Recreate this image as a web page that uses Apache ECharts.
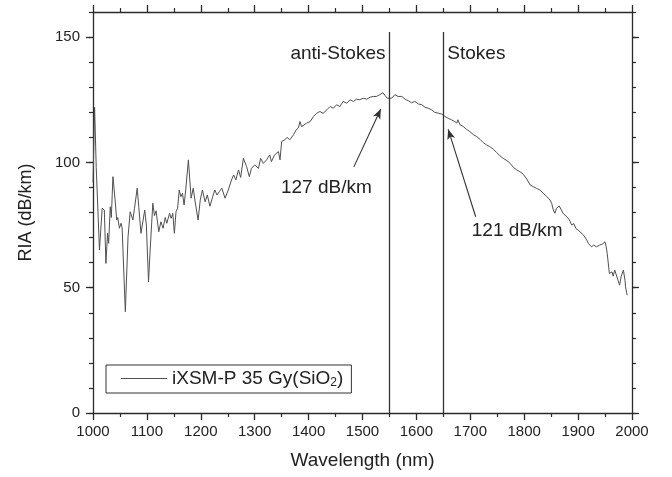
<!DOCTYPE html>
<html>
<head>
<meta charset="utf-8">
<script src="https://cdn.jsdelivr.net/npm/echarts@6/dist/echarts.min.js"></script>
<style>
html,body{margin:0;padding:0;background:#fff;}
#c{width:672px;height:477px;}
</style>
</head>
<body>
<div id="c"></div>
<script>
// ---- data ----
const wavelength = [1000,1003,1006,1012,1017,1021,1024,1027,1029,1032,1034,1037,1041,1044,1046,1049,1052,1054,1060,1065,1069,1074,1077,1082,1085,1089,1092,1096,1099,1103,1106,1111,1114,1117,1122,1126,1130,1134,1137,1142,1145,1148,1151,1154,1157,1160,1163,1166,1169,1172,1177,1182,1186,1189,1195,1199,1203,1208,1212,1217,1222,1226,1230,1235,1239,1245,1251,1257,1261,1265,1270,1274,1279,1282,1285,1290,1294,1300,1307,1311,1316,1322,1328,1331,1337,1344,1347,1350,1356,1360,1365,1372,1377,1381,1384,1387,1390,1396,1403,1409,1415,1421,1427,1434,1440,1446,1452,1458,1464,1471,1477,1483,1489,1495,1501,1508,1514,1520,1526,1532,1538,1542,1546,1550,1554,1560,1566,1573,1579,1585,1591,1597,1604,1610,1616,1622,1628,1634,1641,1647,1653,1659,1665,1671,1675,1677,1681,1687,1693,1699,1706,1712,1718,1724,1730,1736,1743,1749,1755,1761,1768,1774,1780,1786,1792,1798,1805,1811,1817,1823,1829,1836,1842,1848,1851,1854,1857,1860,1865,1869,1872,1879,1884,1888,1892,1896,1900,1903,1910,1916,1919,1922,1925,1929,1934,1940,1945,1950,1952,1954,1958,1960,1963,1965,1968,1971,1974,1977,1980,1984,1987,1988,1991];
const ria = [92,122,98,65,81.7,81,59.7,71.7,67.7,82.3,78,94.3,85,77,78,73.7,75.7,74,40.4,70.3,80.3,77,81.7,89.7,82,71.7,71.7,81,75,52.3,65,83.7,78.7,80.7,72.3,76.3,73.7,78,75.7,79.7,77.7,79.7,71.7,80.3,81.7,89,86.3,87.7,83,89,101,85.7,89.7,85,77,85,89,84.3,87,82.5,86.3,89,87,88.5,89.7,85.7,89,93,95,93,97,94,101.6,102.3,98.3,94.3,97.6,99,97.6,101.6,99.6,101,103,100.3,103,104.3,101,108.3,109,110,109,111,113,113.7,116.3,114.3,113.7,115.6,116.3,118.3,119.6,120.3,119.6,121,122.3,121.6,123,122.3,124.3,123.6,125,124.3,125.2,125,125.6,125.2,126,126.3,126.3,127,127.8,126.6,125.6,125.6,125.6,127,126.3,126.3,125.2,124.6,123.8,124.3,123.3,123,122,121.6,121,120,119.6,119.3,118.3,117.6,117,116.3,115.7,117,115,114.3,113.2,112.3,111,110.3,109.2,107.9,107,106.3,105.2,103.9,102.6,101.6,100.7,99.6,98,97,96.3,95.3,93.3,91,90.3,89.6,89,87.6,86.3,85,83.6,81,79.7,81.7,82.6,81,79.7,78.3,77,75,75.6,73.6,73,72.3,71,69,67.7,67,66.3,67,66.3,67,67.4,68.3,66.4,63.7,55.7,55,56.3,54.6,57,56.3,53,51,54.6,57,53,50.3,47];
const seriesName = 'iXSM-P 35 Gy(SiO2)';
const xTickLabels = [1000,1100,1200,1300,1400,1500,1600,1700,1800,1900,2000];
const yTickLabels = [0,50,100,150];
const lineWavelengths = [1550, 1650];
const lineTop = 152;
const lineLabels = ['anti-Stokes', 'Stokes'];
const lineLabelY = 143.5;
const arrowFrom = [[1484, 98.2], [1710, 78.3]];
const arrowTo = [[1534, 121.3], [1659, 113.2]];
const valueLabels = ['127 dB/km', '121 dB/km'];
const valueLabelPos = [[1433, 90], [1787, 72.6]];

// ---- chart ----
const FONT = 'Arial, "Liberation Sans", sans-serif';
const AX = '#2a2a2a';
const TXT = '#222';
const chart = echarts.init(document.getElementById('c'), null, {renderer: 'canvas'});

function xAx(pos, labels) {
  return {
    type: 'value', position: pos, min: 1000, max: 2000, interval: 100,
    name: labels ? 'Wavelength (nm)' : '', nameLocation: 'middle', nameGap: 38,
    nameTextStyle: {fontFamily: FONT, fontSize: 19, color: TXT},
    axisLine: {show: true, onZero: false, lineStyle: {color: AX, width: 1.3}},
    axisTick: {show: true, inside: false, length: 7, lineStyle: {color: AX, width: 1.3}},
    minorTick: {show: true, splitNumber: 2, length: 4, lineStyle: {color: AX, width: 1.2}},
    axisLabel: {show: labels, margin: 11, fontFamily: FONT, fontSize: 15, color: TXT,
      customValues: xTickLabels, formatter: v => String(v)},
    splitLine: {show: false}, minorSplitLine: {show: false}
  };
}
function yAx(pos, major, first) {
  return {
    type: 'value', position: pos, min: 0, max: 160, interval: major ? 50 : 10,
    name: first ? 'RIA (dB/km)' : '', nameLocation: 'middle', nameGap: 58, nameRotate: 90,
    nameTextStyle: {fontFamily: FONT, fontSize: 18, color: TXT},
    axisLine: {show: !major, onZero: false, lineStyle: {color: AX, width: 1.3}},
    axisTick: major
      ? {show: true, inside: false, length: 7, customValues: yTickLabels, lineStyle: {color: AX, width: 1.3}}
      : {show: true, inside: false, length: 4, lineStyle: {color: AX, width: 1.2}},
    axisLabel: {show: !!first, margin: 13, fontFamily: FONT, fontSize: 15, color: TXT,
      customValues: yTickLabels, formatter: v => String(v)},
    splitLine: {show: false}
  };
}

const data = wavelength.map((w, i) => [w, ria[i]]);

const markLineData = lineWavelengths.map(w => [
  {coord: [w, 0], symbol: 'none'},
  {coord: [w, lineTop], symbol: 'none'}
]).concat(arrowFrom.map((f, i) => [
  {coord: f, symbol: 'none', lineStyle: {color: '#333', width: 1.1}},
  {coord: arrowTo[i], symbol: 'arrow', symbolSize: [6, 10], lineStyle: {color: '#333', width: 1.1}}
]));

const markPointData = lineWavelengths.map((w, i) => ({
  name: lineLabels[i], coord: [w, lineLabelY],
  label: {position: i === 0 ? 'left' : 'right', distance: 4}
})).concat(valueLabels.map((t, i) => ({
  name: t, coord: valueLabelPos[i], label: {position: 'inside'}
})));

chart.setOption({
  animation: false,
  backgroundColor: '#fff',
  grid: {left: 93, right: 40, top: 12, bottom: 64, containLabel: false},
  xAxis: [xAx('bottom', true), xAx('top', false)],
  yAxis: [yAx('left', false, true), yAx('left', true, false), yAx('right', false, false), yAx('right', true, false)],
  legend: {
    show: true, left: 106, top: 365, orient: 'horizontal',
    data: [{name: seriesName, icon: 'rect'}],
    itemWidth: 46, itemHeight: 1,
    itemStyle: {color: '#505050', borderWidth: 0},
    padding: [4, 8, 4, 15],
    borderColor: '#333', borderWidth: 1, borderRadius: 0,
    selectedMode: false,
    formatter: () => 'iXSM-P 35 Gy(SiO{sub|2})',
    textStyle: {fontFamily: FONT, fontSize: 19, color: TXT,
      rich: {sub: {fontFamily: FONT, fontSize: 12, color: TXT, verticalAlign: 'bottom', padding: [9, 0, 0, 0]}}}
  },
  series: [{
    name: seriesName, type: 'line', data: data,
    xAxisIndex: 0, yAxisIndex: 0,
    symbol: 'none', showSymbol: false, smooth: false,
    lineStyle: {color: '#505050', width: 1},
    itemStyle: {color: '#505050'},
    markLine: {
      silent: true, animation: false, symbol: 'none',
      label: {show: false},
      lineStyle: {color: '#333', width: 1.3, type: 'solid'},
      emphasis: {disabled: true},
      data: markLineData
    },
    markPoint: {
      silent: true, animation: false, symbol: 'rect', symbolSize: 0,
      itemStyle: {color: 'rgba(0,0,0,0)'},
      label: {show: true, formatter: '{b}', fontFamily: FONT, fontSize: 19, color: TXT},
      data: markPointData
    }
  }]
});
</script>
</body>
</html>
